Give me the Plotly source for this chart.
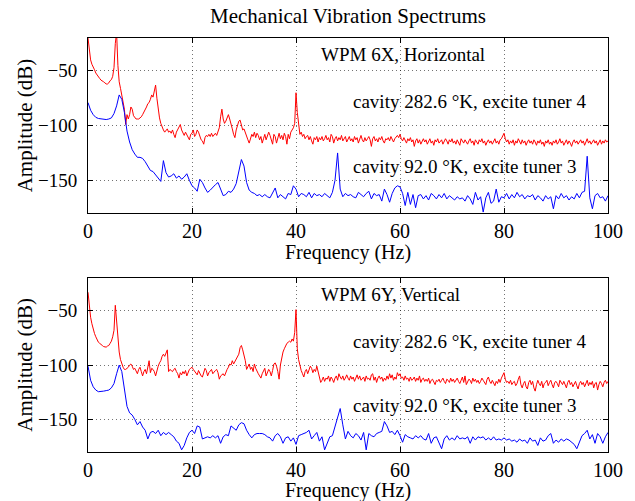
import numpy as np
import plotly.graph_objects as go

# Frequency grids (Hz)
freq_fine = [i * 0.25 for i in range(401)]
freq_coarse = [i * 0.5 for i in range(201)]

# Top panel (WPM 6X, Horizontal): cavity 282.6 K, excite tuner 4 (red), 0.25 Hz steps
top_red = [
    -20, -32, -40, -44, -46, -49, -52, -54, -56, -57, -58.5, -59, -60, -61, -62, -62, -61, -59, -58, -55,
    -47, -25, -15, -45, -60, -66, -72, -76, -85, -99, -90, -94, -90, -83, -85, -91, -93, -94, -94, -94,
    -93, -92, -90, -88, -86, -83, -80, -79, -76, -72, -74, -68, -63, -75, -85, -93, -98, -102, -104, -106,
    -104, -103, -106, -105, -107, -104, -108, -111, -106, -104, -101, -99, -104, -107, -109, -106, -108, -110, -113, -108,
    -107, -104, -110, -108, -104, -106, -110, -113, -114, -117, -111, -109, -110, -108, -110, -107, -110, -108, -107, -109,
    -106, -102, -92, -85, -94, -98, -96, -92, -90, -94, -100, -103, -108, -111, -104, -100, -96, -95, -100, -104,
    -103, -107, -110, -113, -116, -112, -108, -110, -106, -111, -107, -109, -113, -110, -116, -112, -108, -113, -110, -106,
    -109, -113, -117, -108, -110, -116, -111, -107, -112, -109, -113, -107, -110, -117, -108, -112, -106, -104, -102, -98,
    -70, -88, -100, -108, -106, -110, -108, -112, -110, -109, -113, -110, -114, -117, -111, -113, -110, -115, -111, -113,
    -110, -114, -112, -109, -113, -111, -115, -108, -110, -116, -112, -110, -114, -111, -113, -109, -114, -112, -110, -115,
    -113, -110, -114, -112, -115, -110, -113, -111, -116, -112, -109, -113, -115, -111, -114, -112, -110, -113, -119, -112,
    -110, -114, -112, -115, -111, -113, -110, -114, -116, -112, -113, -111, -114, -110, -113, -115, -112, -110, -109, -111,
    -108, -112, -114, -111, -113, -116, -112, -114, -111, -115, -113, -119, -114, -112, -116, -113, -117, -114, -112, -115,
    -113, -117, -114, -112, -116, -114, -118, -113, -115, -112, -116, -114, -113, -117, -115, -112, -114, -117, -113, -115,
    -112, -116, -114, -117, -113, -115, -118, -112, -114, -116, -113, -115, -117, -114, -112, -116, -114, -118, -113, -115,
    -117, -113, -115, -112, -116, -114, -118, -115, -113, -116, -114, -117, -115, -112, -116, -114, -117, -113, -112, -110,
    -107, -112, -115, -113, -117, -114, -116, -113, -118, -114, -116, -112, -115, -117, -113, -116, -114, -118, -115, -113,
    -116, -114, -117, -113, -115, -118, -114, -116, -113, -117, -115, -119, -114, -116, -113, -117, -115, -118, -114, -116,
    -113, -117, -115, -112, -116, -114, -118, -115, -113, -117, -114, -116, -119, -115, -113, -116, -114, -117, -115, -113,
    -116, -114, -118, -115, -112, -116, -114, -117, -115, -113, -116, -114, -118, -115, -113, -117, -114, -116, -113, -115,
    -114,
]

# Top panel: cavity 92.0 K, excite tuner 3 (blue), 0.5 Hz steps
top_blue = [
    -79, -86, -90, -92.5, -93.5, -94, -94.5, -94.5, -94, -93,
    -89, -82, -72, -76, -88, -105, -115, -122, -126, -129,
    -129, -130, -133, -137, -141, -142, -145, -148, -151, -132,
    -143, -147, -146, -144, -148, -146, -149, -147, -144, -150,
    -155, -157, -160, -149, -152, -157, -161, -159, -156, -154,
    -152, -158, -164, -163, -160, -161, -158, -153, -143, -131,
    -137, -152, -159, -161, -162, -164, -163, -165, -163, -165,
    -166, -162, -157, -166, -163, -165, -167, -162, -163, -155,
    -158, -165, -162, -163, -165, -161, -166, -162, -164, -163,
    -165, -162, -164, -166, -161, -150, -125, -158, -165, -162,
    -164, -163, -165, -166, -161, -163, -165, -162, -160, -167,
    -162, -164, -163, -169, -158, -163, -170, -162, -157, -155,
    -156, -162, -173, -161, -172, -163, -175, -164, -163, -167,
    -164, -168, -162, -164, -167, -163, -166, -162, -167, -164,
    -166, -168, -165, -167, -166, -169, -164, -167, -172, -161,
    -168, -165, -179, -166, -161, -171, -169, -158, -170, -165,
    -166, -162, -167, -163, -166, -161, -165, -163, -167, -164,
    -165, -163, -168, -164, -166, -169, -164, -167, -165, -176,
    -164, -167, -162, -166, -164, -168, -165, -167, -162, -166,
    -161, -160, -128, -166, -176, -164, -162, -166, -165, -169,
    -164,
]

# Bottom panel (WPM 6Y, Vertical): cavity 282.6 K, excite tuner 4 (red), 0.25 Hz steps
bottom_red = [
    -33, -46, -56, -62, -67, -71, -74, -77, -79, -80, -81.5, -82, -83, -83.5, -83.5, -82.5, -82, -80, -78, -74,
    -68, -45, -62, -80, -88, -95, -99, -102, -104, -104, -103, -102, -100, -99, -101, -104, -103, -105, -108, -104,
    -102, -106, -110, -106, -104, -108, -100, -96, -107, -103, -104, -106, -110, -104, -101, -98, -96, -92, -90, -92,
    -88, -86, -106, -104, -105, -106, -104, -103, -106, -108, -112, -107, -109, -106, -108, -105, -110, -107, -104, -103,
    -102, -104, -106, -107, -109, -105, -108, -110, -111, -106, -103, -105, -110, -107, -105, -104, -108, -106, -105, -104,
    -107, -113, -110, -109, -108, -110, -106, -104, -102, -99, -100, -96, -99, -97, -95, -92, -90, -84, -82, -86,
    -90, -96, -104, -101, -99, -104, -102, -106, -99, -103, -106, -108, -110, -112, -108, -105, -103, -110, -107, -104,
    -106, -110, -105, -99, -98, -101, -106, -113, -100, -92, -88, -85, -82, -80, -79, -78, -79, -76, -78, -70,
    -49, -85, -95, -101, -105, -108, -111, -106, -104, -108, -104, -101, -103, -107, -104, -106, -101, -107, -112, -116,
    -114, -111, -115, -112, -113, -110, -115, -111, -113, -116, -112, -110, -114, -108, -111, -113, -110, -114, -112, -109,
    -112, -114, -110, -113, -111, -115, -112, -109, -113, -110, -114, -112, -111, -115, -110, -113, -112, -114, -109, -108,
    -114, -111, -116, -112, -110, -113, -111, -115, -112, -114, -110, -113, -108, -112, -109, -114, -111, -113, -107, -110,
    -108, -112, -111, -114, -110, -113, -112, -115, -111, -114, -113, -111, -115, -112, -114, -110, -116, -113, -112, -115,
    -113, -115, -112, -117, -114, -113, -116, -118, -114, -115, -113, -116, -114, -112, -115, -117, -113, -114, -116, -112,
    -115, -113, -116, -114, -112, -115, -117, -114, -111, -116, -110, -118, -115, -113, -114, -117, -112, -115, -113, -116,
    -114, -117, -115, -112, -114, -116, -118, -113, -111, -115, -117, -114, -116, -119, -115, -117, -113, -116, -112, -109,
    -107, -113, -116, -115, -117, -114, -118, -116, -115, -119, -117, -113, -110, -118, -121, -117, -115, -120, -122, -116,
    -114, -118, -115, -121, -124, -118, -114, -117, -119, -115, -121, -117, -116, -114, -119, -116, -114, -118, -121, -116,
    -115, -117, -120, -114, -116, -118, -115, -119, -121, -116, -114, -118, -116, -120, -117, -115, -119, -122, -117, -115,
    -118, -116, -120, -117, -114, -119, -116, -118, -115, -121, -117, -116, -123, -118, -115, -117, -120, -116, -114, -117,
    -115,
]

# Bottom panel: cavity 92.0 K, excite tuner 3 (blue), 0.5 Hz steps
bottom_blue = [
    -101, -114, -120, -123, -124.5, -124.5, -124, -123.5, -123, -121,
    -117, -108, -100, -106, -122, -138, -144, -146, -150, -155,
    -152, -157, -160, -168, -162, -161, -163, -160, -165, -162,
    -164, -162, -164, -166, -170, -172, -178, -174, -167, -162,
    -160, -163, -156, -157, -168, -167, -166, -167, -165, -167,
    -165, -172, -166, -164, -165, -156, -158, -160, -155, -153,
    -154, -160, -164, -167, -164, -163, -163, -163, -164, -166,
    -167, -170, -165, -163, -166, -172, -167, -166, -170, -167,
    -173, -165, -164, -163, -162, -160, -168, -165, -162, -170,
    -166, -178, -171, -166, -165, -157, -150, -140, -155, -168,
    -161, -165, -167, -163, -165, -169, -162, -178, -163, -165,
    -166, -163, -162, -161, -152, -156, -162, -161, -164, -160,
    -165, -171, -164, -166, -167, -168, -165, -167, -165, -168,
    -169, -163, -172, -167, -166, -172, -177, -168, -165, -169,
    -167, -169, -165, -168, -167, -168, -166, -172, -166, -169,
    -166, -167, -166, -169, -167, -169, -166, -169, -168, -169,
    -167, -169, -168, -170, -169, -171, -168, -170, -169, -172,
    -167, -170, -169, -174, -167, -170, -169, -165, -163, -172,
    -169, -171, -168, -170, -168, -169, -171, -173, -177, -170,
    -165, -163, -160, -168, -164, -172, -163, -166, -172, -166,
    -162,
]

x_ticks = [0, 20, 40, 60, 80, 100]
y_ticks = [-150, -100, -50]
y_tick_text = ["\u2212150", "\u2212100", "\u221250"]
panel_labels = ["WPM 6X, Horizontal", "WPM 6Y, Vertical"]
red_label = "cavity 282.6 \u00b0K, excite tuner 4"
blue_label = "cavity 92.0 \u00b0K, excite tuner 3"

FONT = "Liberation Serif, Times New Roman, serif"

fig = go.Figure()
fig.add_trace(go.Scatter(x=freq_fine, y=top_red, mode="lines", line=dict(color="#ff0000", width=1),
                         xaxis="x", yaxis="y", showlegend=False))
fig.add_trace(go.Scatter(x=freq_coarse, y=top_blue, mode="lines", line=dict(color="#0000ff", width=1),
                         xaxis="x", yaxis="y", showlegend=False))
fig.add_trace(go.Scatter(x=freq_fine, y=bottom_red, mode="lines", line=dict(color="#ff0000", width=1),
                         xaxis="x2", yaxis="y2", showlegend=False))
fig.add_trace(go.Scatter(x=freq_coarse, y=bottom_blue, mode="lines", line=dict(color="#0000ff", width=1),
                         xaxis="x2", yaxis="y2", showlegend=False))

axis_common = dict(
    showline=True, linecolor="black", linewidth=1, mirror="allticks",
    ticks="inside", ticklen=5, tickcolor="black",
    showgrid=True, gridcolor="rgba(0,0,0,0.55)", gridwidth=1, griddash="1px,3px",
    zeroline=False,
)
x_tickfont = dict(family=FONT, size=20, color="black")
y_tickfont = dict(family=FONT, size=19, color="black")

# plot area: x 88..612.7, y 38.3..452.3 (px)
top_dom = [0.5769, 1.0]
bot_dom = [0.0, 0.42]

fig.update_layout(
    width=635, height=501,
    margin=dict(l=88, r=22, t=38, b=49),
    paper_bgcolor="white", plot_bgcolor="white",
    font=dict(family=FONT, color="black"),
    xaxis=dict(domain=[0, 1], range=[0, 100], tickvals=x_ticks, anchor="y", ticklabelstandoff=0,
               tickfont=x_tickfont, **axis_common),
    yaxis=dict(domain=top_dom, range=[-180, -20], tickvals=y_ticks, ticktext=y_tick_text, anchor="x",
               ticklabelstandoff=6, tickfont=y_tickfont, **axis_common),
    xaxis2=dict(domain=[0, 1], range=[0, 100], tickvals=x_ticks, anchor="y2", ticklabelstandoff=0,
                tickfont=x_tickfont, **axis_common),
    yaxis2=dict(domain=bot_dom, range=[-180, -20], tickvals=y_ticks, ticktext=y_tick_text, anchor="x2",
                ticklabelstandoff=6, tickfont=y_tickfont, **axis_common),
    title=dict(text="Mechanical Vibration Spectrums", x=0.5, xref="paper", xanchor="center",
               y=1 - 16 / 501, yanchor="middle", yref="container",
               font=dict(family=FONT, size=21, color="black")),
)

annotations = []
for i, (xa, ya) in enumerate([("x", "y"), ("x2", "y2")]):
    annotations.append(dict(x=44.8, y=-35.3, xref=xa, yref=ya, text=panel_labels[i], showarrow=False,
                            xanchor="left", yanchor="middle", xshift=-2, font=dict(family=FONT, size=19)))
    annotations.append(dict(x=50.9, y=-78, xref=xa, yref=ya, text=red_label, showarrow=False,
                            xanchor="left", yanchor="middle", xshift=-2, font=dict(family=FONT, size=19)))
    annotations.append(dict(x=50.9, y=-137.4, xref=xa, yref=ya, text=blue_label, showarrow=False,
                            xanchor="left", yanchor="middle", xshift=-2, font=dict(family=FONT, size=19)))

# Axis titles
annotations.append(dict(x=0.5, y=(452.3 - 253) / 414.3, xref="paper", yref="paper", text="Frequency (Hz)",
                        showarrow=False, xanchor="center", yanchor="middle", font=dict(family=FONT, size=20)))
annotations.append(dict(x=0.5, y=(452.3 - 490.5) / 414.3, xref="paper", yref="paper", text="Frequency (Hz)",
                        showarrow=False, xanchor="center", yanchor="middle", font=dict(family=FONT, size=20)))
annotations.append(dict(x=(24 - 88) / 524.7, y=(452.3 - 125.8) / 414.3, xref="paper", yref="paper",
                        text="Amplitude (dB)", textangle=-90, showarrow=False, xanchor="center",
                        yanchor="middle", font=dict(family=FONT, size=21)))
annotations.append(dict(x=(24 - 88) / 524.7, y=(452.3 - 365.3) / 414.3, xref="paper", yref="paper",
                        text="Amplitude (dB)", textangle=-90, showarrow=False, xanchor="center",
                        yanchor="middle", font=dict(family=FONT, size=21)))
fig.update_layout(annotations=annotations)

fig.write_html(
    "out.html",
    config={"displayModeBar": False},
    post_script="document.body.style.margin='0';document.body.style.padding='0';"
                "document.documentElement.style.overflow='hidden';",
)
